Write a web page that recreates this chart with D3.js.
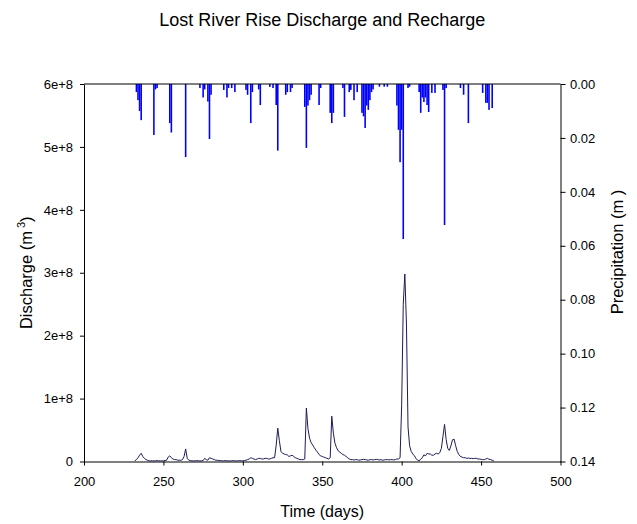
<!DOCTYPE html>
<html>
<head>
<meta charset="utf-8">
<script src="https://cdn.jsdelivr.net/npm/d3@7"></script>
<style>
  body { margin: 0; background: #fff; }
  svg text { font-family: "Liberation Sans", Arial, sans-serif; fill: #000; }
</style>
</head>
<body>
<div id="chart-container"></div>
<script>
// daily discharge, first value is day 232 (values in millions of m3)
const dischargeStartDay = 232;
const dischargeMillions = [
  1, 3, 6, 10, 13, 8, 5, 3, 2,
  1, 1, 1, 1, 1, 1.5, 1, 1, 1, 1, 1.5, 2,
  7, 9, 6, 4, 3, 3, 2, 2, 2, 3, 8, 20, 5, 2, 1.5,
  1, 1, 1, 1.5, 1, 1, 1, 1.5,
  5, 3, 2, 6, 5, 4, 3, 2, 2,
  1.5, 1.5, 1, 1, 1.5, 1, 1, 1, 1, 1.5, 1, 1, 1, 1.5, 1, 1, 1.5, 2,
  3, 4, 6, 5, 4, 3, 4, 5, 5, 4, 4, 5, 5, 4, 4, 5, 6, 6,
  26, 53, 33, 16, 13, 12, 11, 10.5, 8, 9, 10, 8, 6, 5, 4, 3, 3, 3, 4,
  85, 52, 37, 30, 26, 22, 18, 15, 11, 9, 8, 7, 6, 5, 4, 6,
  72, 45, 29, 22, 17, 15, 13, 11, 10, 8, 6, 4, 3,
  3, 2.5, 3, 3, 2, 2.5, 3, 3.5, 3, 2.5, 2, 3, 3, 2.5, 3, 3.5, 3, 2.5, 3, 2,
  2.5, 3, 3, 2.5, 3, 3, 2.5, 3, 4,
  4, 6, 90, 250, 298, 220, 55, 25, 16, 12, 9, 5, 2,
  1, 4, 6, 10.5, 9, 13, 12, 12, 10, 10, 12, 13, 12, 14, 21, 40,
  59, 35, 21, 17.5, 25, 34.5, 35.5, 25, 16, 11, 8, 7, 6, 6, 5, 5.5,
  5, 5, 4.5, 5, 5, 4, 4, 3.5, 3, 3, 4, 5, 3.5, 3, 2, 1
];

// daily precipitation (m), only days with rain
const precipDays = [
  233, 234, 235, 236, 244, 245, 246, 254, 255, 264,
  273, 275, 276, 278, 279, 280, 288, 290, 291, 293, 295,
  302, 303, 305, 306, 310, 311, 317, 319, 321, 322, 327, 328, 330, 331,
  339, 340, 341, 342, 343, 348, 349, 355, 356, 357, 363, 364, 367, 368, 370, 372,
  375, 376, 377, 378, 379, 380, 381, 382, 386, 389, 391,
  397, 398, 399, 400, 401, 404, 405,
  411, 412, 413, 414, 415, 416, 417, 419, 421, 426, 427, 428,
  437, 439, 442, 451, 453, 454, 455, 457
];
const precipValues = [
  0.003, 0.006, 0.010, 0.0134, 0.0189, 0.002, 0.0015, 0.0145, 0.018, 0.0271,
  0.0015, 0.005, 0.002, 0.0065, 0.0204, 0.004, 0.0022, 0.005, 0.0015, 0.0015, 0.003,
  0.0022, 0.004, 0.0145, 0.003, 0.002, 0.0078, 0.0011, 0.0015, 0.0078, 0.0247, 0.004, 0.003, 0.003, 0.0015,
  0.0085, 0.0237, 0.008, 0.006, 0.004, 0.0078, 0.0015, 0.0107, 0.0145, 0.0107, 0.0015, 0.0122, 0.003, 0.0022, 0.006, 0.003,
  0.0107, 0.012, 0.0163, 0.008, 0.0096, 0.006, 0.003, 0.002, 0.001, 0.001, 0.001,
  0.008, 0.017, 0.029, 0.017, 0.0575, 0.0015, 0.001,
  0.003, 0.0107, 0.005, 0.0067, 0.005, 0.0078, 0.0104, 0.0033, 0.0033, 0.0022, 0.0523, 0.0015,
  0.0015, 0.004, 0.0145, 0.0033, 0.007, 0.007, 0.0096, 0.0089
];

const xTicks = [200, 250, 300, 350, 400, 450, 500];
const dischargeTicks = [0, 1e8, 2e8, 3e8, 4e8, 5e8, 6e8];
const precipTicks = [0, 0.02, 0.04, 0.06, 0.08, 0.1, 0.12, 0.14];

const discharge = dischargeMillions.map((v, i) => ({
  day: dischargeStartDay + i,
  q: v * 1e6,
}));
const precip = precipDays.map((d, i) => ({ day: d, p: precipValues[i] }));

const width = 637;
const height = 524;
const margin = { top: 84, right: 76.5, bottom: 62.5, left: 84 };
const usableArea = {
  top: margin.top,
  right: width - margin.right,
  bottom: height - margin.bottom,
  left: margin.left,
};

const svg = d3
  .select('#chart-container')
  .append('svg')
  .attr('width', width)
  .attr('height', height);

const xScale = d3.scaleLinear().domain([200, 500]).range([usableArea.left, usableArea.right]);
const yDischarge = d3.scaleLinear().domain([0, 6e8]).range([usableArea.bottom, usableArea.top]);
const yPrecip = d3.scaleLinear().domain([0, 0.14]).range([usableArea.top, usableArea.bottom]);

// precipitation bars hang from the top
const barW = xScale(1) - xScale(0);
svg
  .append('g')
  .selectAll('rect')
  .data(precip)
  .join('rect')
  .attr('x', (d) => xScale(d.day) - barW / 2)
  .attr('y', yPrecip(0))
  .attr('width', barW)
  .attr('height', (d) => yPrecip(d.p) - yPrecip(0))
  .style('fill', '#0000ff');

// discharge line
const line = d3
  .line()
  .x((d) => xScale(d.day))
  .y((d) => yDischarge(d.q));
svg
  .append('path')
  .datum(discharge)
  .attr('d', line)
  .attr('fill', 'none')
  .attr('stroke', '#1c1c5a')
  .attr('stroke-width', 1);

// top frame line
svg
  .append('line')
  .attr('x1', usableArea.left)
  .attr('x2', usableArea.right)
  .attr('y1', usableArea.top)
  .attr('y2', usableArea.top)
  .attr('stroke', '#000');

const fmtDischarge = (d) => (d === 0 ? '0' : d3.format('.0e')(d));

svg
  .append('g')
  .attr('transform', `translate(${usableArea.left},0)`)
  .call(d3.axisLeft(yDischarge).tickValues(dischargeTicks).tickFormat(fmtDischarge).tickSize(4).tickSizeOuter(0).tickPadding(7))
  .call((g) => g.selectAll('text').style('font-size', '13px'));

svg
  .append('g')
  .attr('transform', `translate(${usableArea.right},0)`)
  .call(d3.axisRight(yPrecip).tickValues(precipTicks).tickFormat(d3.format('.2f')).tickSize(5).tickSizeOuter(0).tickPadding(4.5))
  .call((g) => g.selectAll('text').style('font-size', '13px'));

svg
  .append('g')
  .attr('transform', `translate(0,${usableArea.bottom})`)
  .call(d3.axisBottom(xScale).tickValues(xTicks).tickFormat(d3.format('d')).tickSize(4).tickSizeOuter(0).tickPadding(11))
  .call((g) => g.selectAll('text').style('font-size', '13px'));

svg.selectAll('.domain, .tick line').attr('stroke', '#000');

// titles
svg
  .append('text')
  .attr('x', (usableArea.left + usableArea.right) / 2)
  .attr('y', 26)
  .attr('text-anchor', 'middle')
  .style('font-size', '18px')
  .text('Lost River Rise Discharge and Recharge');

svg
  .append('text')
  .attr('x', (usableArea.left + usableArea.right) / 2)
  .attr('y', 517)
  .attr('text-anchor', 'middle')
  .style('font-size', '16px')
  .text('Time (days)');

const yTitle = svg
  .append('text')
  .attr('transform', `translate(32,${(usableArea.top + usableArea.bottom) / 2}) rotate(-90)`)
  .attr('text-anchor', 'middle')
  .style('font-size', '16.5px');
yTitle.append('tspan').text('Discharge (m');
yTitle.append('tspan').attr('dx', 3).attr('dy', -7).style('font-size', '11px').text('3');
yTitle.append('tspan').attr('dy', 7).text(')');

svg
  .append('text')
  .attr('transform', `translate(623,252) rotate(-90)`)
  .attr('text-anchor', 'middle')
  .style('font-size', '16.5px')
  .text('Precipitation (m )');
</script>
</body>
</html>
